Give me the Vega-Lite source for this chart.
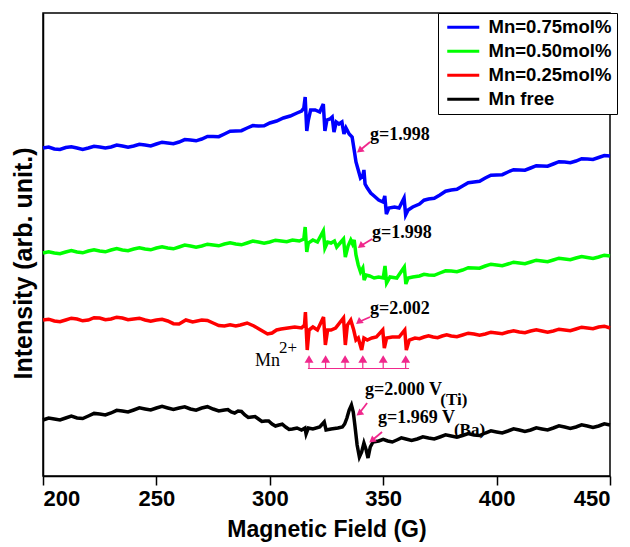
{
  "$schema": "https://vega.github.io/schema/vega-lite/v6.json",
  "autosize": "none",
  "width": 567,
  "height": 463,
  "padding": {"left": 43, "top": 13, "right": 20, "bottom": 71},
  "background": "white",
  "config": {
    "view": {"stroke": "black", "strokeWidth": 1.5},
    "font": "Liberation Sans",
    "axisY": {"ticks": false, "labels": false, "grid": false}
  },
  "datasets": {
    "spectra": [
      {"s":"Mn=0.75mol%","x":200,"y":328},{"s":"Mn=0.75mol%","x":202.5,"y":329},{"s":"Mn=0.75mol%","x":205,"y":327},{"s":"Mn=0.75mol%","x":207.5,"y":326.5},{"s":"Mn=0.75mol%","x":210,"y":328.5},{"s":"Mn=0.75mol%","x":212.5,"y":329.2},{"s":"Mn=0.75mol%","x":215,"y":328},{"s":"Mn=0.75mol%","x":217.5,"y":326.5},{"s":"Mn=0.75mol%","x":220,"y":328},{"s":"Mn=0.75mol%","x":222.5,"y":329.7},{"s":"Mn=0.75mol%","x":225,"y":329},{"s":"Mn=0.75mol%","x":227.5,"y":328},{"s":"Mn=0.75mol%","x":230,"y":329},{"s":"Mn=0.75mol%","x":232.5,"y":331},{"s":"Mn=0.75mol%","x":235,"y":330},{"s":"Mn=0.75mol%","x":237.5,"y":328.7},{"s":"Mn=0.75mol%","x":240,"y":330},{"s":"Mn=0.75mol%","x":242.5,"y":331.7},{"s":"Mn=0.75mol%","x":245,"y":331},{"s":"Mn=0.75mol%","x":247.5,"y":330.1},{"s":"Mn=0.75mol%","x":250,"y":332},{"s":"Mn=0.75mol%","x":252.5,"y":333.8},{"s":"Mn=0.75mol%","x":255,"y":333},{"s":"Mn=0.75mol%","x":257.5,"y":332.3},{"s":"Mn=0.75mol%","x":260,"y":334},{"s":"Mn=0.75mol%","x":262.5,"y":336.4},{"s":"Mn=0.75mol%","x":265,"y":336},{"s":"Mn=0.75mol%","x":267.5,"y":335.2},{"s":"Mn=0.75mol%","x":270,"y":337},{"s":"Mn=0.75mol%","x":272.5,"y":339.5},{"s":"Mn=0.75mol%","x":275,"y":339.5},{"s":"Mn=0.75mol%","x":277.5,"y":339.3},{"s":"Mn=0.75mol%","x":280,"y":342},{"s":"Mn=0.75mol%","x":282.5,"y":344.8},{"s":"Mn=0.75mol%","x":285,"y":345},{"s":"Mn=0.75mol%","x":287.5,"y":345.3},{"s":"Mn=0.75mol%","x":290,"y":348},{"s":"Mn=0.75mol%","x":292.5,"y":350.4},{"s":"Mn=0.75mol%","x":295,"y":350},{"s":"Mn=0.75mol%","x":297.5,"y":350.2},{"s":"Mn=0.75mol%","x":300,"y":353},{"s":"Mn=0.75mol%","x":303,"y":355},{"s":"Mn=0.75mol%","x":306,"y":358},{"s":"Mn=0.75mol%","x":309,"y":360},{"s":"Mn=0.75mol%","x":312,"y":363},{"s":"Mn=0.75mol%","x":314,"y":365},{"s":"Mn=0.75mol%","x":315,"y":368},{"s":"Mn=0.75mol%","x":315.6,"y":379},{"s":"Mn=0.75mol%","x":316.3,"y":345},{"s":"Mn=0.75mol%","x":317,"y":356},{"s":"Mn=0.75mol%","x":318,"y":366},{"s":"Mn=0.75mol%","x":320,"y":366},{"s":"Mn=0.75mol%","x":322,"y":364},{"s":"Mn=0.75mol%","x":323.6,"y":372},{"s":"Mn=0.75mol%","x":324.3,"y":345},{"s":"Mn=0.75mol%","x":325.2,"y":356},{"s":"Mn=0.75mol%","x":326.5,"y":357},{"s":"Mn=0.75mol%","x":327.5,"y":359},{"s":"Mn=0.75mol%","x":328.3,"y":344},{"s":"Mn=0.75mol%","x":329.3,"y":354},{"s":"Mn=0.75mol%","x":330.5,"y":352},{"s":"Mn=0.75mol%","x":331.8,"y":354},{"s":"Mn=0.75mol%","x":332.7,"y":342},{"s":"Mn=0.75mol%","x":333.6,"y":348},{"s":"Mn=0.75mol%","x":335,"y":342},{"s":"Mn=0.75mol%","x":336.3,"y":339},{"s":"Mn=0.75mol%","x":337.2,"y":326},{"s":"Mn=0.75mol%","x":338,"y":314},{"s":"Mn=0.75mol%","x":339,"y":306},{"s":"Mn=0.75mol%","x":340,"y":298},{"s":"Mn=0.75mol%","x":341,"y":300},{"s":"Mn=0.75mol%","x":341.5,"y":306},{"s":"Mn=0.75mol%","x":342,"y":292},{"s":"Mn=0.75mol%","x":343,"y":288},{"s":"Mn=0.75mol%","x":344.5,"y":283},{"s":"Mn=0.75mol%","x":346,"y":280},{"s":"Mn=0.75mol%","x":348,"y":276},{"s":"Mn=0.75mol%","x":350,"y":274},{"s":"Mn=0.75mol%","x":350.7,"y":280},{"s":"Mn=0.75mol%","x":351.4,"y":262},{"s":"Mn=0.75mol%","x":352.5,"y":268},{"s":"Mn=0.75mol%","x":355,"y":269},{"s":"Mn=0.75mol%","x":357,"y":268},{"s":"Mn=0.75mol%","x":359.2,"y":278},{"s":"Mn=0.75mol%","x":359.9,"y":261},{"s":"Mn=0.75mol%","x":361,"y":266},{"s":"Mn=0.75mol%","x":363,"y":269},{"s":"Mn=0.75mol%","x":366,"y":272},{"s":"Mn=0.75mol%","x":368,"y":275.8},{"s":"Mn=0.75mol%","x":370,"y":277},{"s":"Mn=0.75mol%","x":372.5,"y":277.8},{"s":"Mn=0.75mol%","x":375,"y":281},{"s":"Mn=0.75mol%","x":377.5,"y":284.8},{"s":"Mn=0.75mol%","x":380,"y":286},{"s":"Mn=0.75mol%","x":382.5,"y":286.7},{"s":"Mn=0.75mol%","x":385,"y":290},{"s":"Mn=0.75mol%","x":387.5,"y":293.2},{"s":"Mn=0.75mol%","x":390,"y":294},{"s":"Mn=0.75mol%","x":392.5,"y":294.7},{"s":"Mn=0.75mol%","x":395,"y":298},{"s":"Mn=0.75mol%","x":397.5,"y":300.8},{"s":"Mn=0.75mol%","x":400,"y":301},{"s":"Mn=0.75mol%","x":402.5,"y":301.3},{"s":"Mn=0.75mol%","x":405,"y":304},{"s":"Mn=0.75mol%","x":407.5,"y":306.3},{"s":"Mn=0.75mol%","x":410,"y":306},{"s":"Mn=0.75mol%","x":412.5,"y":305.8},{"s":"Mn=0.75mol%","x":415,"y":308},{"s":"Mn=0.75mol%","x":417.5,"y":310.3},{"s":"Mn=0.75mol%","x":420,"y":310},{"s":"Mn=0.75mol%","x":422.5,"y":309.8},{"s":"Mn=0.75mol%","x":425,"y":312},{"s":"Mn=0.75mol%","x":427.5,"y":314.3},{"s":"Mn=0.75mol%","x":430,"y":314},{"s":"Mn=0.75mol%","x":432.5,"y":313.3},{"s":"Mn=0.75mol%","x":435,"y":315},{"s":"Mn=0.75mol%","x":437.5,"y":317.3},{"s":"Mn=0.75mol%","x":440,"y":317},{"s":"Mn=0.75mol%","x":442.5,"y":316.5},{"s":"Mn=0.75mol%","x":445,"y":318.5},{"s":"Mn=0.75mol%","x":447.5,"y":320.5},{"s":"Mn=0.75mol%","x":450,"y":320},
      {"s":"Mn=0.50mol%","x":200,"y":223},{"s":"Mn=0.50mol%","x":202.5,"y":224.3},{"s":"Mn=0.50mol%","x":205,"y":223},{"s":"Mn=0.50mol%","x":207.5,"y":222.3},{"s":"Mn=0.50mol%","x":210,"y":224},{"s":"Mn=0.50mol%","x":212.5,"y":225.4},{"s":"Mn=0.50mol%","x":215,"y":224},{"s":"Mn=0.50mol%","x":217.5,"y":223.2},{"s":"Mn=0.50mol%","x":220,"y":225},{"s":"Mn=0.50mol%","x":222.5,"y":226.2},{"s":"Mn=0.50mol%","x":225,"y":225},{"s":"Mn=0.50mol%","x":227.5,"y":224.2},{"s":"Mn=0.50mol%","x":230,"y":226},{"s":"Mn=0.50mol%","x":232.5,"y":227.4},{"s":"Mn=0.50mol%","x":235,"y":226},{"s":"Mn=0.50mol%","x":237.5,"y":225.3},{"s":"Mn=0.50mol%","x":240,"y":227},{"s":"Mn=0.50mol%","x":242.5,"y":228.3},{"s":"Mn=0.50mol%","x":245,"y":227},{"s":"Mn=0.50mol%","x":247.5,"y":226.2},{"s":"Mn=0.50mol%","x":250,"y":228},{"s":"Mn=0.50mol%","x":252.5,"y":229.2},{"s":"Mn=0.50mol%","x":255,"y":228},{"s":"Mn=0.50mol%","x":257.5,"y":227.2},{"s":"Mn=0.50mol%","x":260,"y":229},{"s":"Mn=0.50mol%","x":262.5,"y":230.9},{"s":"Mn=0.50mol%","x":265,"y":230},{"s":"Mn=0.50mol%","x":267.5,"y":228.8},{"s":"Mn=0.50mol%","x":270,"y":230},{"s":"Mn=0.50mol%","x":272.5,"y":231.8},{"s":"Mn=0.50mol%","x":275,"y":231},{"s":"Mn=0.50mol%","x":277.5,"y":230.2},{"s":"Mn=0.50mol%","x":280,"y":232},{"s":"Mn=0.50mol%","x":282.5,"y":233.2},{"s":"Mn=0.50mol%","x":285,"y":232},{"s":"Mn=0.50mol%","x":287.5,"y":231.2},{"s":"Mn=0.50mol%","x":290,"y":233},{"s":"Mn=0.50mol%","x":292.5,"y":234.9},{"s":"Mn=0.50mol%","x":295,"y":234},{"s":"Mn=0.50mol%","x":297.5,"y":232.8},{"s":"Mn=0.50mol%","x":300,"y":234},{"s":"Mn=0.50mol%","x":302.5,"y":235.8},{"s":"Mn=0.50mol%","x":305,"y":235},{"s":"Mn=0.50mol%","x":307.5,"y":234.3},{"s":"Mn=0.50mol%","x":310,"y":236},{"s":"Mn=0.50mol%","x":313,"y":235},{"s":"Mn=0.50mol%","x":315,"y":237},{"s":"Mn=0.50mol%","x":315.6,"y":249},{"s":"Mn=0.50mol%","x":316.3,"y":224},{"s":"Mn=0.50mol%","x":317,"y":233},{"s":"Mn=0.50mol%","x":319,"y":236},{"s":"Mn=0.50mol%","x":321,"y":234},{"s":"Mn=0.50mol%","x":323.6,"y":245},{"s":"Mn=0.50mol%","x":324.3,"y":228},{"s":"Mn=0.50mol%","x":325.5,"y":234},{"s":"Mn=0.50mol%","x":327,"y":233},{"s":"Mn=0.50mol%","x":328.5,"y":235},{"s":"Mn=0.50mol%","x":329.5,"y":229},{"s":"Mn=0.50mol%","x":331,"y":233},{"s":"Mn=0.50mol%","x":332.5,"y":237},{"s":"Mn=0.50mol%","x":333.3,"y":219},{"s":"Mn=0.50mol%","x":334.5,"y":230},{"s":"Mn=0.50mol%","x":335.7,"y":236},{"s":"Mn=0.50mol%","x":336.5,"y":232},{"s":"Mn=0.50mol%","x":337.2,"y":236},{"s":"Mn=0.50mol%","x":338,"y":221},{"s":"Mn=0.50mol%","x":339,"y":211},{"s":"Mn=0.50mol%","x":340,"y":204},{"s":"Mn=0.50mol%","x":341,"y":208},{"s":"Mn=0.50mol%","x":341.6,"y":196},{"s":"Mn=0.50mol%","x":342.5,"y":201},{"s":"Mn=0.50mol%","x":344,"y":200},{"s":"Mn=0.50mol%","x":346,"y":198},{"s":"Mn=0.50mol%","x":348,"y":199},{"s":"Mn=0.50mol%","x":350,"y":198},{"s":"Mn=0.50mol%","x":350.8,"y":210},{"s":"Mn=0.50mol%","x":351.5,"y":193},{"s":"Mn=0.50mol%","x":353,"y":199},{"s":"Mn=0.50mol%","x":356,"y":198},{"s":"Mn=0.50mol%","x":359.3,"y":209},{"s":"Mn=0.50mol%","x":360,"y":192},{"s":"Mn=0.50mol%","x":361,"y":198},{"s":"Mn=0.50mol%","x":363,"y":199},{"s":"Mn=0.50mol%","x":366,"y":200},{"s":"Mn=0.50mol%","x":368,"y":201.7},{"s":"Mn=0.50mol%","x":370,"y":201},{"s":"Mn=0.50mol%","x":372.5,"y":200.7},{"s":"Mn=0.50mol%","x":375,"y":203},{"s":"Mn=0.50mol%","x":377.5,"y":205.2},{"s":"Mn=0.50mol%","x":380,"y":205},{"s":"Mn=0.50mol%","x":382.5,"y":204.3},{"s":"Mn=0.50mol%","x":385,"y":206},{"s":"Mn=0.50mol%","x":387.5,"y":208.3},{"s":"Mn=0.50mol%","x":390,"y":208},{"s":"Mn=0.50mol%","x":392.5,"y":207.8},{"s":"Mn=0.50mol%","x":395,"y":210},{"s":"Mn=0.50mol%","x":397.5,"y":211.8},{"s":"Mn=0.50mol%","x":400,"y":211},{"s":"Mn=0.50mol%","x":402.5,"y":210.3},{"s":"Mn=0.50mol%","x":405,"y":212},{"s":"Mn=0.50mol%","x":407.5,"y":213.8},{"s":"Mn=0.50mol%","x":410,"y":213},{"s":"Mn=0.50mol%","x":412.5,"y":212.3},{"s":"Mn=0.50mol%","x":415,"y":214},{"s":"Mn=0.50mol%","x":417.5,"y":215.8},{"s":"Mn=0.50mol%","x":420,"y":215},{"s":"Mn=0.50mol%","x":422.5,"y":214.3},{"s":"Mn=0.50mol%","x":425,"y":216},{"s":"Mn=0.50mol%","x":427.5,"y":217.8},{"s":"Mn=0.50mol%","x":430,"y":217},{"s":"Mn=0.50mol%","x":432.5,"y":216.3},{"s":"Mn=0.50mol%","x":435,"y":218},{"s":"Mn=0.50mol%","x":437.5,"y":219.5},{"s":"Mn=0.50mol%","x":440,"y":218.5},{"s":"Mn=0.50mol%","x":442.5,"y":217.5},{"s":"Mn=0.50mol%","x":445,"y":219},{"s":"Mn=0.50mol%","x":447.5,"y":220.8},{"s":"Mn=0.50mol%","x":450,"y":220},
      {"s":"Mn=0.25mol%","x":200,"y":156},{"s":"Mn=0.25mol%","x":202.5,"y":156.8},{"s":"Mn=0.25mol%","x":205,"y":155},{"s":"Mn=0.25mol%","x":207.5,"y":154.3},{"s":"Mn=0.25mol%","x":210,"y":156},{"s":"Mn=0.25mol%","x":212.5,"y":157.8},{"s":"Mn=0.25mol%","x":215,"y":157},{"s":"Mn=0.25mol%","x":217.5,"y":155.2},{"s":"Mn=0.25mol%","x":220,"y":156},{"s":"Mn=0.25mol%","x":222.5,"y":158.3},{"s":"Mn=0.25mol%","x":225,"y":158},{"s":"Mn=0.25mol%","x":227.5,"y":156.3},{"s":"Mn=0.25mol%","x":230,"y":157},{"s":"Mn=0.25mol%","x":232.5,"y":158.8},{"s":"Mn=0.25mol%","x":235,"y":158},{"s":"Mn=0.25mol%","x":237.5,"y":156.3},{"s":"Mn=0.25mol%","x":240,"y":157},{"s":"Mn=0.25mol%","x":242.5,"y":157.8},{"s":"Mn=0.25mol%","x":245,"y":156},{"s":"Mn=0.25mol%","x":247.5,"y":154.8},{"s":"Mn=0.25mol%","x":250,"y":156},{"s":"Mn=0.25mol%","x":252.5,"y":156.7},{"s":"Mn=0.25mol%","x":255,"y":155},{"s":"Mn=0.25mol%","x":257.5,"y":152.3},{"s":"Mn=0.25mol%","x":260,"y":152},{"s":"Mn=0.25mol%","x":263,"y":156},{"s":"Mn=0.25mol%","x":266,"y":154},{"s":"Mn=0.25mol%","x":270,"y":156},{"s":"Mn=0.25mol%","x":272.5,"y":155.5},{"s":"Mn=0.25mol%","x":275,"y":153},{"s":"Mn=0.25mol%","x":277.5,"y":150.5},{"s":"Mn=0.25mol%","x":280,"y":150},{"s":"Mn=0.25mol%","x":282.5,"y":151.3},{"s":"Mn=0.25mol%","x":285,"y":150},{"s":"Mn=0.25mol%","x":287,"y":151},{"s":"Mn=0.25mol%","x":290,"y":153},{"s":"Mn=0.25mol%","x":293,"y":150},{"s":"Mn=0.25mol%","x":296,"y":146},{"s":"Mn=0.25mol%","x":299,"y":142},{"s":"Mn=0.25mol%","x":301,"y":143},{"s":"Mn=0.25mol%","x":303,"y":146},{"s":"Mn=0.25mol%","x":305,"y":147},{"s":"Mn=0.25mol%","x":308,"y":148},{"s":"Mn=0.25mol%","x":311,"y":149},{"s":"Mn=0.25mol%","x":314,"y":148},{"s":"Mn=0.25mol%","x":315.3,"y":151},{"s":"Mn=0.25mol%","x":315.7,"y":164},{"s":"Mn=0.25mol%","x":316.5,"y":126},{"s":"Mn=0.25mol%","x":317.3,"y":146},{"s":"Mn=0.25mol%","x":319,"y":149},{"s":"Mn=0.25mol%","x":321,"y":146},{"s":"Mn=0.25mol%","x":323.7,"y":159},{"s":"Mn=0.25mol%","x":324.5,"y":131},{"s":"Mn=0.25mol%","x":325.5,"y":146},{"s":"Mn=0.25mol%","x":327,"y":146},{"s":"Mn=0.25mol%","x":329,"y":148},{"s":"Mn=0.25mol%","x":332.5,"y":158},{"s":"Mn=0.25mol%","x":333.3,"y":131},{"s":"Mn=0.25mol%","x":334.2,"y":151},{"s":"Mn=0.25mol%","x":335.7,"y":156},{"s":"Mn=0.25mol%","x":337,"y":146},{"s":"Mn=0.25mol%","x":338,"y":136},{"s":"Mn=0.25mol%","x":339,"y":138},{"s":"Mn=0.25mol%","x":340.5,"y":126},{"s":"Mn=0.25mol%","x":341.5,"y":138},{"s":"Mn=0.25mol%","x":343,"y":136},{"s":"Mn=0.25mol%","x":345,"y":138},{"s":"Mn=0.25mol%","x":347,"y":139},{"s":"Mn=0.25mol%","x":349.8,"y":146},{"s":"Mn=0.25mol%","x":350.5,"y":128},{"s":"Mn=0.25mol%","x":351.5,"y":138},{"s":"Mn=0.25mol%","x":354,"y":139},{"s":"Mn=0.25mol%","x":357,"y":139},{"s":"Mn=0.25mol%","x":359.5,"y":146},{"s":"Mn=0.25mol%","x":360.2,"y":126},{"s":"Mn=0.25mol%","x":361.5,"y":136},{"s":"Mn=0.25mol%","x":364,"y":138},{"s":"Mn=0.25mol%","x":366,"y":137.3},{"s":"Mn=0.25mol%","x":368,"y":139},{"s":"Mn=0.25mol%","x":370,"y":140.3},{"s":"Mn=0.25mol%","x":372,"y":139},{"s":"Mn=0.25mol%","x":374,"y":138.3},{"s":"Mn=0.25mol%","x":376,"y":140},{"s":"Mn=0.25mol%","x":378,"y":141.3},{"s":"Mn=0.25mol%","x":380,"y":140},{"s":"Mn=0.25mol%","x":382.5,"y":139.3},{"s":"Mn=0.25mol%","x":385,"y":141},{"s":"Mn=0.25mol%","x":387.5,"y":142.8},{"s":"Mn=0.25mol%","x":390,"y":142},{"s":"Mn=0.25mol%","x":392.5,"y":140.8},{"s":"Mn=0.25mol%","x":395,"y":142},{"s":"Mn=0.25mol%","x":397.5,"y":143.8},{"s":"Mn=0.25mol%","x":400,"y":143},{"s":"Mn=0.25mol%","x":402.5,"y":142.3},{"s":"Mn=0.25mol%","x":405,"y":144},{"s":"Mn=0.25mol%","x":407.5,"y":145.3},{"s":"Mn=0.25mol%","x":410,"y":144},{"s":"Mn=0.25mol%","x":412.5,"y":143.3},{"s":"Mn=0.25mol%","x":415,"y":145},{"s":"Mn=0.25mol%","x":417.5,"y":146.3},{"s":"Mn=0.25mol%","x":420,"y":145},{"s":"Mn=0.25mol%","x":422.5,"y":143.8},{"s":"Mn=0.25mol%","x":425,"y":145},{"s":"Mn=0.25mol%","x":427.5,"y":146.8},{"s":"Mn=0.25mol%","x":430,"y":146},{"s":"Mn=0.25mol%","x":432.5,"y":145.3},{"s":"Mn=0.25mol%","x":435,"y":147},{"s":"Mn=0.25mol%","x":437.5,"y":148.8},{"s":"Mn=0.25mol%","x":440,"y":148},{"s":"Mn=0.25mol%","x":442.5,"y":147.3},{"s":"Mn=0.25mol%","x":445,"y":149},{"s":"Mn=0.25mol%","x":447.5,"y":149.8},{"s":"Mn=0.25mol%","x":450,"y":148},
      {"s":"Mn free","x":200,"y":56},{"s":"Mn free","x":202.5,"y":58},{"s":"Mn free","x":205,"y":57},{"s":"Mn free","x":207.5,"y":56},{"s":"Mn free","x":210,"y":58},{"s":"Mn free","x":212.5,"y":59.8},{"s":"Mn free","x":215,"y":58},{"s":"Mn free","x":217.5,"y":57.5},{"s":"Mn free","x":220,"y":60},{"s":"Mn free","x":222.5,"y":62.6},{"s":"Mn free","x":225,"y":62},{"s":"Mn free","x":227.5,"y":61},{"s":"Mn free","x":230,"y":63},{"s":"Mn free","x":232.5,"y":65.7},{"s":"Mn free","x":235,"y":65},{"s":"Mn free","x":237.5,"y":64},{"s":"Mn free","x":240,"y":66},{"s":"Mn free","x":242.5,"y":68.1},{"s":"Mn free","x":245,"y":67},{"s":"Mn free","x":247.5,"y":66},{"s":"Mn free","x":250,"y":68},{"s":"Mn free","x":252.5,"y":69.6},{"s":"Mn free","x":255,"y":68},{"s":"Mn free","x":257.5,"y":66.5},{"s":"Mn free","x":260,"y":68},{"s":"Mn free","x":262.5,"y":69.2},{"s":"Mn free","x":265,"y":67},{"s":"Mn free","x":267.5,"y":65.9},{"s":"Mn free","x":270,"y":68},{"s":"Mn free","x":272.5,"y":69.3},{"s":"Mn free","x":275,"y":67},{"s":"Mn free","x":277.5,"y":65},{"s":"Mn free","x":280,"y":66},{"s":"Mn free","x":281.5,"y":66.5},{"s":"Mn free","x":283,"y":64},{"s":"Mn free","x":284.5,"y":63},{"s":"Mn free","x":286,"y":65},{"s":"Mn free","x":287.5,"y":64.5},{"s":"Mn free","x":289,"y":61},{"s":"Mn free","x":290.5,"y":58.5},{"s":"Mn free","x":292,"y":59},{"s":"Mn free","x":293.5,"y":59.5},{"s":"Mn free","x":295,"y":57},{"s":"Mn free","x":296.5,"y":54.5},{"s":"Mn free","x":298,"y":55},{"s":"Mn free","x":299.5,"y":55},{"s":"Mn free","x":301,"y":52},{"s":"Mn free","x":302.5,"y":50},{"s":"Mn free","x":304,"y":51},{"s":"Mn free","x":305.5,"y":51.8},{"s":"Mn free","x":307,"y":49},{"s":"Mn free","x":308.5,"y":46.5},{"s":"Mn free","x":310,"y":47},{"s":"Mn free","x":312,"y":48},{"s":"Mn free","x":314,"y":46},{"s":"Mn free","x":315.5,"y":48},{"s":"Mn free","x":316,"y":42},{"s":"Mn free","x":317,"y":48},{"s":"Mn free","x":319,"y":47},{"s":"Mn free","x":322,"y":49},{"s":"Mn free","x":324,"y":54},{"s":"Mn free","x":324.8,"y":46},{"s":"Mn free","x":327,"y":47},{"s":"Mn free","x":330,"y":48},{"s":"Mn free","x":332,"y":49},{"s":"Mn free","x":333,"y":52},{"s":"Mn free","x":334,"y":58},{"s":"Mn free","x":335,"y":66},{"s":"Mn free","x":336,"y":71},{"s":"Mn free","x":336.8,"y":64},{"s":"Mn free","x":337.5,"y":51},{"s":"Mn free","x":338.5,"y":31},{"s":"Mn free","x":339.5,"y":19},{"s":"Mn free","x":340.5,"y":24},{"s":"Mn free","x":341.5,"y":33},{"s":"Mn free","x":342.5,"y":26},{"s":"Mn free","x":343.3,"y":18},{"s":"Mn free","x":344.3,"y":29},{"s":"Mn free","x":345.5,"y":34},{"s":"Mn free","x":348,"y":35},{"s":"Mn free","x":350,"y":36.6},{"s":"Mn free","x":352,"y":35},{"s":"Mn free","x":354,"y":34},{"s":"Mn free","x":356,"y":36},{"s":"Mn free","x":358,"y":38.1},{"s":"Mn free","x":360,"y":37},{"s":"Mn free","x":362.5,"y":35.5},{"s":"Mn free","x":365,"y":37},{"s":"Mn free","x":367.5,"y":39.2},{"s":"Mn free","x":370,"y":38},{"s":"Mn free","x":372.5,"y":37},{"s":"Mn free","x":375,"y":39},{"s":"Mn free","x":377.5,"y":41.1},{"s":"Mn free","x":380,"y":40},{"s":"Mn free","x":382.5,"y":38.8},{"s":"Mn free","x":385,"y":40.5},{"s":"Mn free","x":387.5,"y":42.5},{"s":"Mn free","x":390,"y":41},{"s":"Mn free","x":392.5,"y":40.5},{"s":"Mn free","x":395,"y":43},{"s":"Mn free","x":397.5,"y":45.1},{"s":"Mn free","x":400,"y":44},{"s":"Mn free","x":402.5,"y":43},{"s":"Mn free","x":405,"y":45},{"s":"Mn free","x":407.5,"y":47.2},{"s":"Mn free","x":410,"y":46},{"s":"Mn free","x":412.5,"y":44.5},{"s":"Mn free","x":415,"y":46},{"s":"Mn free","x":417.5,"y":48.1},{"s":"Mn free","x":420,"y":47},{"s":"Mn free","x":422.5,"y":46},{"s":"Mn free","x":425,"y":48},{"s":"Mn free","x":427.5,"y":50.2},{"s":"Mn free","x":430,"y":49},{"s":"Mn free","x":432.5,"y":47.5},{"s":"Mn free","x":435,"y":49},{"s":"Mn free","x":437.5,"y":51.1},{"s":"Mn free","x":440,"y":50},{"s":"Mn free","x":442.5,"y":48.5},{"s":"Mn free","x":445,"y":50},{"s":"Mn free","x":447.5,"y":52.1},{"s":"Mn free","x":450,"y":51}
    ],
    "labels": [
      {"x":344.2,"y":341,"t":"g=1.998"},
      {"x":345.1,"y":243,"t":"g=1.998"},
      {"x":344.2,"y":167,"t":"g=2.002"},
      {"x":342.0,"y":86,"t":"g=2.000 V"},
      {"x":347.7,"y":58,"t":"g=1.969 V"}
    ],
    "subs": [
      {"x":375.2,"y":76,"t":"(Ti)"},
      {"x":381.2,"y":46,"t":"(Ba)"}
    ],
    "arrows": [
      {"x":344.2,"y":334,"x2":339.6,"y2":325.5},
      {"x":345.1,"y":237,"x2":340.0,"y2":230},
      {"x":344.2,"y":159,"x2":339.2,"y2":154},
      {"x":342.9,"y":73,"x2":339.4,"y2":62.5},
      {"x":349.5,"y":44,"x2":345.0,"y2":35.5}
    ],
    "mnlines": [
      {"x":317.3},{"x":324.6},{"x":333.2},{"x":341.0},{"x":350.0},{"x":359.9}
    ]
  },
  "layer": [
    {
      "data": {"name": "spectra"},
      "mark": {"type": "line", "strokeWidth": 3.5},
      "encoding": {
        "x": {"field": "x", "type": "quantitative",
              "scale": {"domain": [200, 450], "nice": false, "zero": false},
              "axis": {"values": [200, 250, 300, 350, 400, 450], "title": "Magnetic Field (G)",
                       "grid": false, "domainColor": "black", "domainWidth": 1.5, "tickColor": "black", "tickWidth": 1.5, "tickSize": 9,
                       "labelFont": "Liberation Sans", "labelFontWeight": "bold", "labelFontSize": 22, "labelColor": "black", "labelPadding": 3,
                       "titleFont": "Liberation Sans", "titleFontWeight": "bold", "titleFontSize": 23, "titleColor": "black", "titlePadding": 9}},
        "y": {"field": "y", "type": "quantitative",
              "scale": {"domain": [0, 463], "nice": false, "zero": false},
              "axis": {"title": "Intensity (arb. unit.)", "labels": false, "ticks": false, "grid": false, "values": [],
                       "domainColor": "black", "domainWidth": 1.5, "titleY": 250,
                       "titleFont": "Liberation Sans", "titleFontWeight": "bold", "titleFontSize": 25, "titleColor": "black", "titlePadding": 7}},
        "color": {"field": "s", "type": "nominal",
                  "scale": {"domain": ["Mn=0.75mol%", "Mn=0.50mol%", "Mn=0.25mol%", "Mn free"],
                            "range": ["#0000ff", "#00ff00", "#ff0000", "#000000"]},
                  "legend": {"title": null, "orient": "none", "legendX": 395, "legendY": 0,
                             "strokeColor": "black", "fillColor": "white", "padding": 5,
                             "symbolType": "M-1,0H5.4", "symbolSize": 100, "symbolStrokeWidth": 3,
                             "labelFont": "Liberation Sans", "labelFontWeight": "bold", "labelFontSize": 18.5, "labelColor": "black",
                             "rowPadding": 5, "labelOffset": 27}}
      }
    },
    {
      "data": {"name": "arrows"},
      "mark": {"type": "rule", "color": "#f0288c", "strokeWidth": 1.8},
      "encoding": {
        "x": {"field": "x", "type": "quantitative"},
        "y": {"field": "y", "type": "quantitative"},
        "x2": {"field": "x2"},
        "y2": {"field": "y2"}
      }
    },
    {
      "data": {"name": "arrows"},
      "mark": {"type": "point", "shape": "triangle-up", "filled": true, "color": "#f0288c", "size": 60, "opacity": 1, "angle": 232},
      "encoding": {
        "x": {"field": "x2", "type": "quantitative"},
        "y": {"field": "y2", "type": "quantitative"}
      }
    },
    {
      "data": {"name": "labels"},
      "mark": {"type": "text", "align": "left", "baseline": "middle", "font": "Liberation Serif", "fontWeight": "bold", "fontSize": 18, "color": "black"},
      "encoding": {
        "x": {"field": "x", "type": "quantitative"},
        "y": {"field": "y", "type": "quantitative"},
        "text": {"field": "t"}
      }
    },
    {
      "data": {"name": "subs"},
      "mark": {"type": "text", "align": "left", "baseline": "middle", "font": "Liberation Serif", "fontWeight": "bold", "fontSize": 17, "color": "black"},
      "encoding": {
        "x": {"field": "x", "type": "quantitative"},
        "y": {"field": "y", "type": "quantitative"},
        "text": {"field": "t"}
      }
    },
    {
      "data": {"name": "mnlines"},
      "mark": {"type": "rule", "color": "#f0288c", "strokeWidth": 1.2},
      "encoding": {
        "x": {"field": "x", "type": "quantitative"},
        "y": {"datum": 107.5},
        "y2": {"datum": 114}
      }
    },
    {
      "data": {"name": "mnlines"},
      "mark": {"type": "point", "shape": "triangle-up", "filled": true, "color": "#f0288c", "size": 80, "opacity": 1},
      "encoding": {
        "x": {"field": "x", "type": "quantitative"},
        "y": {"datum": 117}
      }
    },
    {
      "data": {"values": [{"a": 316.8, "b": 361.4}]},
      "mark": {"type": "rule", "color": "#f0288c", "strokeWidth": 1.2},
      "encoding": {
        "x": {"field": "a", "type": "quantitative"},
        "x2": {"field": "b"},
        "y": {"datum": 107.5}
      }
    },
    {
      "data": {"values": [{"x": 293.5, "y": 115, "t": "Mn"}]},
      "mark": {"type": "text", "align": "left", "baseline": "middle", "font": "Liberation Serif", "fontSize": 18, "color": "black"},
      "encoding": {
        "x": {"field": "x", "type": "quantitative"},
        "y": {"field": "y", "type": "quantitative"},
        "text": {"field": "t"}
      }
    },
    {
      "data": {"values": [{"x": 304.1, "y": 128, "t": "2+"}]},
      "mark": {"type": "text", "align": "left", "baseline": "middle", "font": "Liberation Serif", "fontSize": 17, "color": "black"},
      "encoding": {
        "x": {"field": "x", "type": "quantitative"},
        "y": {"field": "y", "type": "quantitative"},
        "text": {"field": "t"}
      }
    }
  ]
}
